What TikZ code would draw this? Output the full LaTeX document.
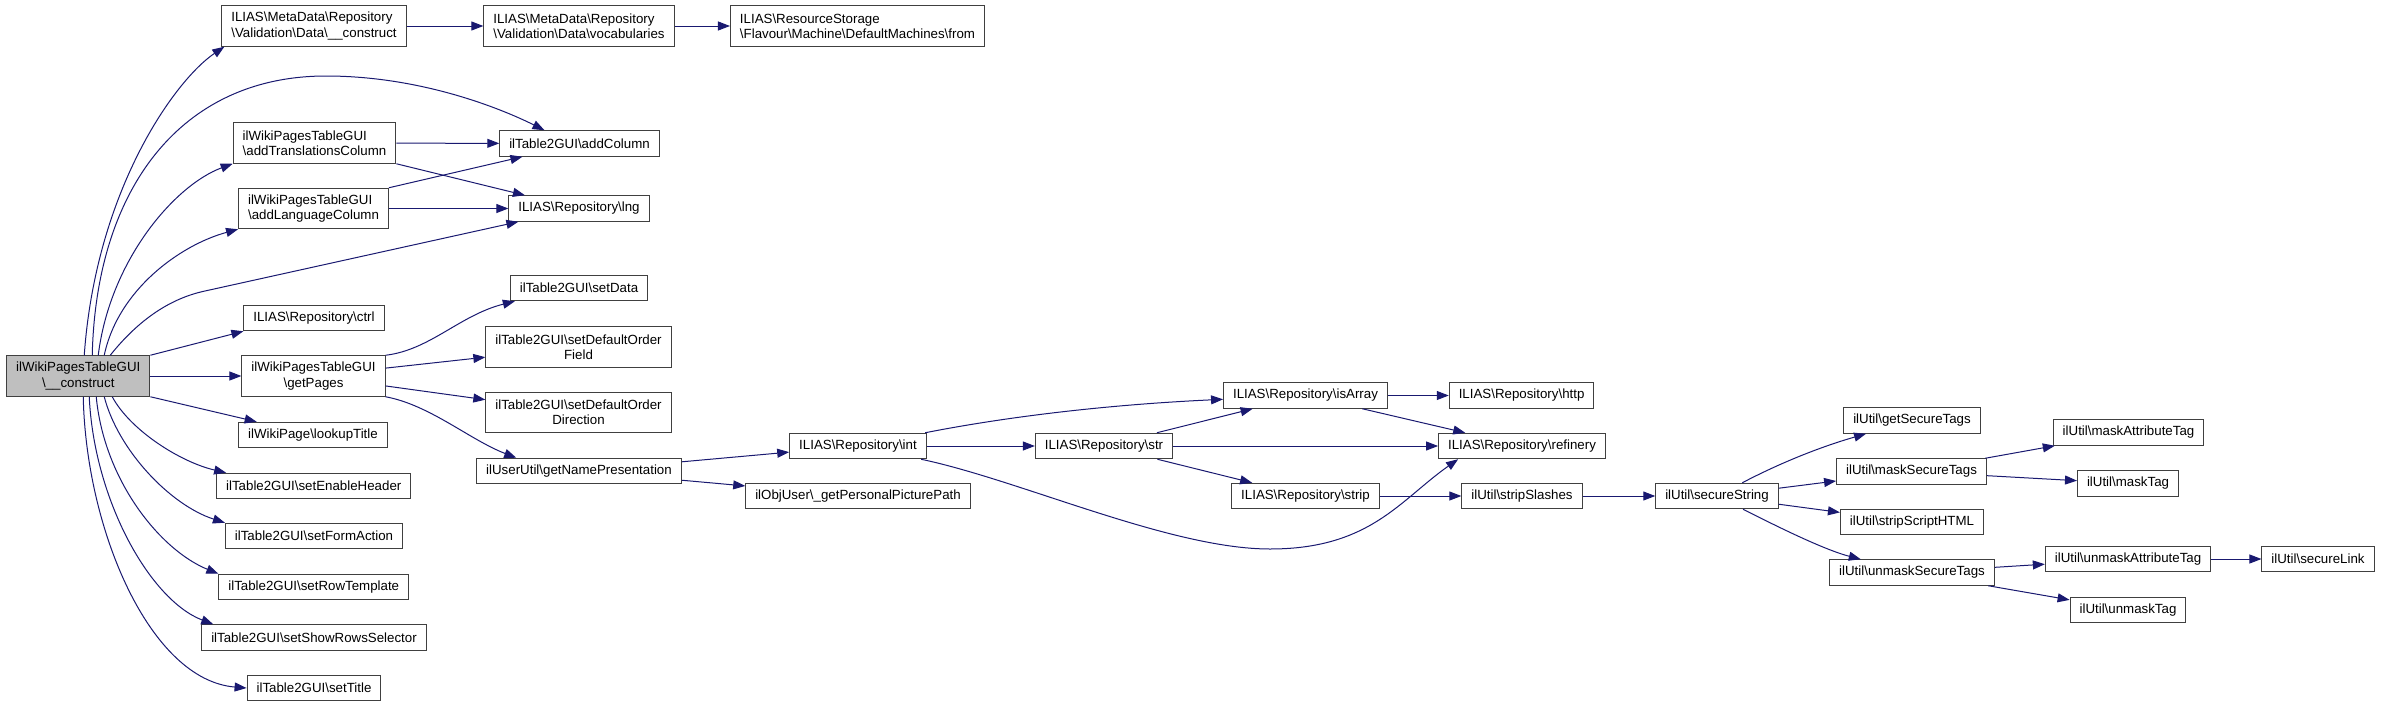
\documentclass[tikz,border=0pt]{standalone}
\usepackage{fontspec}
\setmainfont{Liberation Sans}
\usetikzlibrary{arrows.meta}
\definecolor{edgeblue}{HTML}{191970}
\definecolor{boxline}{HTML}{404040}
\definecolor{rootgray}{HTML}{BFBFBF}
\newcommand{\bsl}{\textbackslash}
\tikzset{
  fn/.style={draw=boxline, line width=1pt, fill=white, inner xsep=9.5pt, inner ysep=2pt,
    minimum height=25.5pt, font=\fontsize{13.3}{15.3}\selectfont},
  fntwo/.style={fn, minimum height=40.5pt},
  rootfn/.style={fntwo, fill=rootgray, align=center},
  call/.style={draw=edgeblue, line width=1pt, -{Triangle[length=12pt,width=9pt]}},
}
\begin{document}
\begin{tikzpicture}[x=1pt,y=-1pt]
\useasboundingbox (0,0) rectangle (2381,707);

%Root and first rank
\node [rootfn] (cons) at (78.25,376) {ilWikiPagesTableGUI\\\bsl\_\_construct};
\node [fntwo, align=left] (meta) at (314,26) {ILIAS\bsl MetaData\bsl Repository\\\bsl Validation\bsl Data\bsl\_\_construct};
\node [fntwo, align=left] (addtrans) at (314.5,143) {ilWikiPagesTableGUI\\\bsl addTranslationsColumn};
\node [fntwo, align=left] (addlang) at (313.5,208.5) {ilWikiPagesTableGUI\\\bsl addLanguageColumn};
\node [fn] (ctrl) at (314,318) {ILIAS\bsl Repository\bsl ctrl};
\node [fntwo, align=center] (getpages) at (313.5,376) {ilWikiPagesTableGUI\\\bsl getPages};
\node [fn] (lookup) at (313,435) {ilWikiPage\bsl lookupTitle};
\node [fn] (enableheader) at (313.75,486) {ilTable2GUI\bsl setEnableHeader};
\node [fn] (formaction) at (314,536) {ilTable2GUI\bsl setFormAction};
\node [fn] (rowtemplate) at (313.75,587) {ilTable2GUI\bsl setRowTemplate};
\node [fn] (rowsselector) at (314,637.5) {ilTable2GUI\bsl setShowRowsSelector};
\node [fn] (settitle) at (314,688) {ilTable2GUI\bsl setTitle};

%Second rank
\node [fntwo, align=left] (vocab) at (579,26) {ILIAS\bsl MetaData\bsl Repository\\\bsl Validation\bsl Data\bsl vocabularies};
\node [fn] (addcol) at (579.5,143.5) {ilTable2GUI\bsl addColumn};
\node [fn] (lng) at (579,208.5) {ILIAS\bsl Repository\bsl lng};
\node [fn] (setdata) at (579,288) {ilTable2GUI\bsl setData};
\node [fntwo, align=center] (orderfield) at (578.5,347) {ilTable2GUI\bsl setDefaultOrder\\Field};
\node [fntwo, align=center] (orderdir) at (578.5,412.5) {ilTable2GUI\bsl setDefaultOrder\\Direction};
\node [fn] (namepres) at (579,471) {ilUserUtil\bsl getNamePresentation};

%Repository and util ranks
\node [fntwo, align=left] (dmfrom) at (857.5,26) {ILIAS\bsl ResourceStorage\\\bsl Flavour\bsl Machine\bsl DefaultMachines\bsl from};
\node [fn] (int) at (858,446) {ILIAS\bsl Repository\bsl int};
\node [fn] (picpath) at (858,496) {ilObjUser\bsl\_getPersonalPicturePath};
\node [fn] (str) at (1104,446) {ILIAS\bsl Repository\bsl str};
\node [fn] (isarray) at (1305.5,395.5) {ILIAS\bsl Repository\bsl isArray};
\node [fn] (strip) at (1305.5,496) {ILIAS\bsl Repository\bsl strip};
\node [fn] (http) at (1521.6,395.5) {ILIAS\bsl Repository\bsl http};
\node [fn] (refinery) at (1522,446) {ILIAS\bsl Repository\bsl refinery};
\node [fn] (stripslashes) at (1522,496) {ilUtil\bsl stripSlashes};
\node [fn] (securestring) at (1717,496) {ilUtil\bsl secureString};
\node [fn] (getsecuretags) at (1912,420.5) {ilUtil\bsl getSecureTags};
\node [fn] (masksecuretags) at (1911.5,471.5) {ilUtil\bsl maskSecureTags};
\node [fn] (stripscript) at (1912,522) {ilUtil\bsl stripScriptHTML};
\node [fn] (unmasksecuretags) at (1912,572.5) {ilUtil\bsl unmaskSecureTags};
\node [fn] (maskattr) at (2128.5,432.5) {ilUtil\bsl maskAttributeTag};
\node [fn] (masktag) at (2128,483.5) {ilUtil\bsl maskTag};
\node [fn] (unmaskattr) at (2128,559) {ilUtil\bsl unmaskAttributeTag};
\node [fn] (unmasktag) at (2128,610) {ilUtil\bsl unmaskTag};
\node [fn] (securelink) at (2318,559) {ilUtil\bsl secureLink};

%Fan out of the root
\draw [call] ([xshift=6pt]cons.north) .. controls (96,190) and (175,80) .. ([xshift=3pt]meta.south west);
\draw [call] ([xshift=14pt]cons.north) .. controls (96,190) and (180,76) .. (326,76)
  .. controls (420,76) and (500,108) .. ([xshift=-35pt]addcol.north);
\draw [call] ([xshift=20pt]cons.north) .. controls (110,260) and (175,185) .. (addtrans.south west);
\draw [call] ([xshift=26pt]cons.north) .. controls (118,290) and (180,245) .. (addlang.south west);
\draw [call] ([xshift=32pt]cons.north) .. controls (140,318) and (172,298) .. (205,291)
  -- ([xshift=10pt]lng.south west);
\draw [call] (cons.north east) -- (ctrl.south west);
\draw [call] (cons) -- (getpages);
\draw [call] (cons.south east) -- (lookup);
\draw [call] ([xshift=34pt]cons.south) .. controls (130,430) and (180,462) .. ([xshift=10pt]enableheader.north west);
\draw [call] ([xshift=26pt]cons.south) .. controls (118,450) and (170,505) .. (formaction.north west);
\draw [call] ([xshift=18pt]cons.south) .. controls (104,480) and (160,550) .. (rowtemplate.north west);
\draw [call] ([xshift=11pt]cons.south) .. controls (94,500) and (150,600) .. ([xshift=12pt]rowsselector.north west);
\draw [call] ([xshift=5pt]cons.south) .. controls (86,530) and (150,680) .. (settitle.west);

%Second level calls
\draw [call] (meta) -- (vocab);
\draw [call] (vocab) -- (dmfrom);
\draw [call] (addtrans) -- (addcol);
\draw [call] (addtrans.south east) -- (lng);
\draw [call] (addlang.north east) -- (addcol);
\draw [call] (addlang) -- (lng);
\draw [call] (getpages.north east) .. controls (430,350) and (460,315) .. ([xshift=5pt]setdata.south west);
\draw [call] (getpages) -- (orderfield);
\draw [call] (getpages) -- (orderdir);
\draw [call] (getpages.south east) .. controls (430,405) and (470,440) .. ([xshift=40pt]namepres.north west);

%Deeper calls
\draw [call] (namepres) -- (int);
\draw [call] (namepres) -- (picpath);
\draw [call] (int) .. controls (1000,418) and (1100,405) .. (isarray);
\draw [call] (int) -- (str);
\draw [call] (int) .. controls (1020,480) and (1170,549) .. (1270,549)
  .. controls (1370,549) and (1400,500) .. ([xshift=20pt]refinery.south west);
\draw [call] (str) -- (isarray);
\draw [call] (str) -- (refinery);
\draw [call] (str) -- (strip);
\draw [call] (isarray) -- (http);
\draw [call] (isarray) -- (refinery);
\draw [call] (strip) -- (stripslashes);
\draw [call] (stripslashes) -- (securestring);
\draw [call] (securestring) .. controls (1780,463) and (1820,447) .. (getsecuretags);
\draw [call] (securestring) -- (masksecuretags);
\draw [call] (securestring) -- (stripscript);
\draw [call] (securestring) .. controls (1780,528) and (1825,550) .. (unmasksecuretags);
\draw [call] (masksecuretags) -- (maskattr);
\draw [call] (masksecuretags) -- (masktag);
\draw [call] (unmasksecuretags) -- (unmaskattr);
\draw [call] (unmasksecuretags) -- (unmasktag);
\draw [call] (unmaskattr) -- (securelink);
\end{tikzpicture}
\end{document}
